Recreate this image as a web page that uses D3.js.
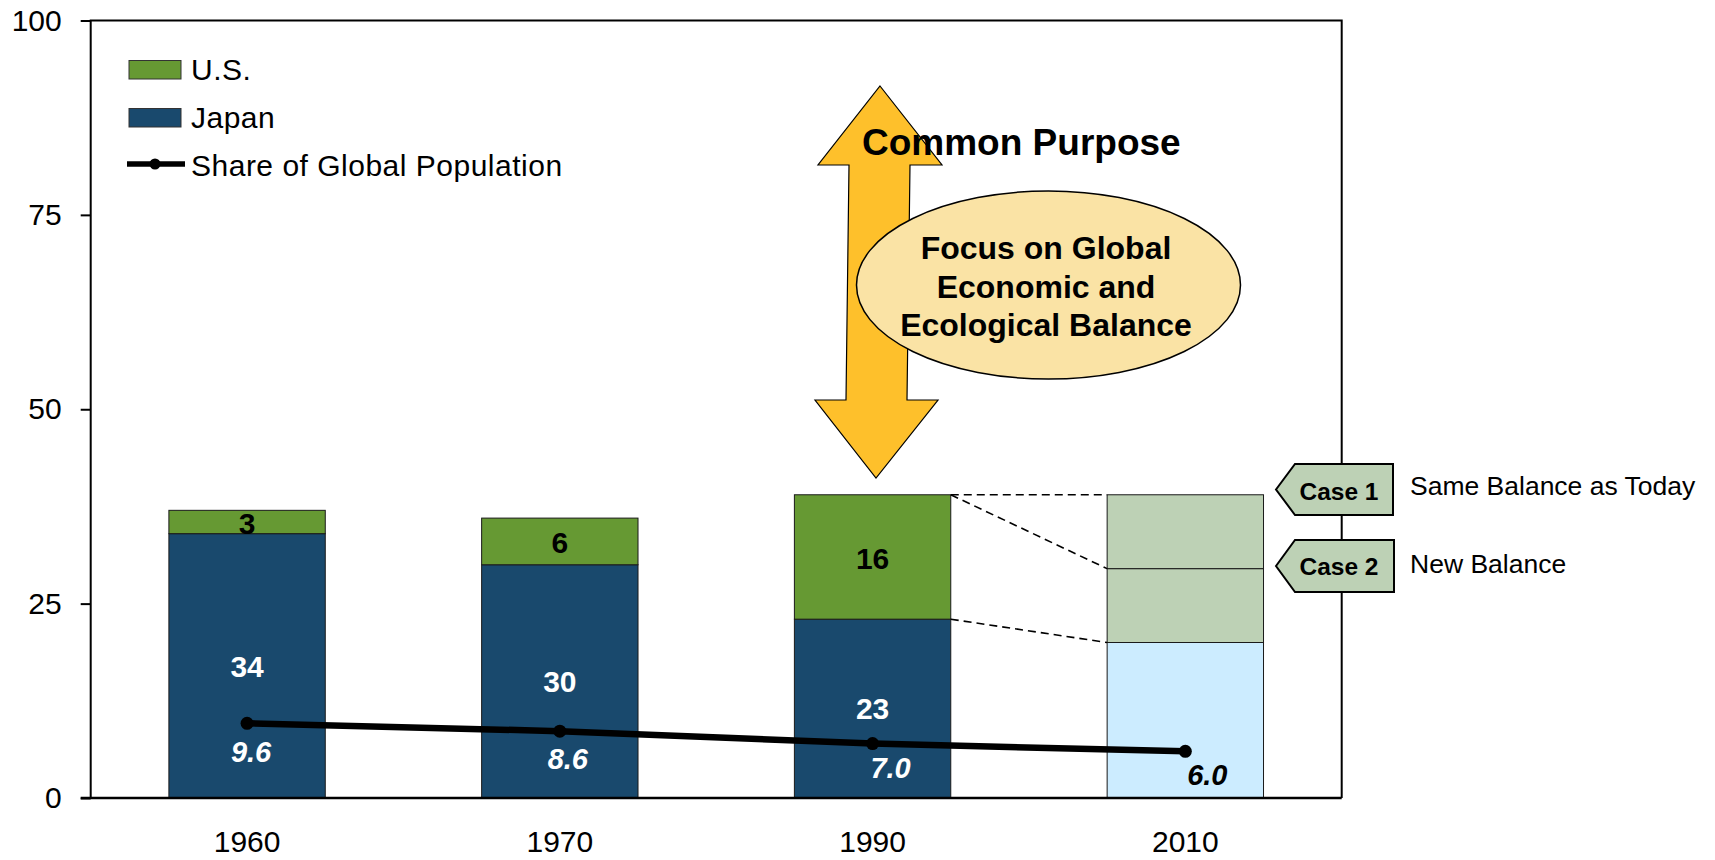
<!DOCTYPE html>
<html>
<head>
<meta charset="utf-8">
<script src="https://cdn.jsdelivr.net/npm/d3@7/dist/d3.min.js"></script>
<style>
  html, body { margin: 0; padding: 0; background: #fff; }
  svg { display: block; font-family: "Liberation Sans", Arial, sans-serif; }
</style>
</head>
<body>
<svg id="chart" width="1715" height="860"></svg>
<script>
// ---- data ----
const years = ["1960", "1970", "1990", "2010"];
const japan = [34, 30, 23, null];
const us = [3, 6, 16, null];
const projection2010 = [20, 29.5, 39];           // segment tops for 2010 (Japan, Case 2, Case 1)
const populationShare = [9.6, 8.6, 7.0, 6.0];
const yTicks = [0, 25, 50, 75, 100];
const legendLabels = ["U.S.", "Japan", "Share of Global Population"];
const cases = [
  { label: "Case 1", text: "Same Balance as Today" },
  { label: "Case 2", text: "New Balance" }
];
const ellipseLines = ["Focus on Global", "Economic and", "Ecological Balance"];
const titleText = "Common Purpose";

// ---- style ----
const C = {
  japan: "#19496D", us: "#669933", proj: "#CCECFF", projUS: "#BDD1B5",
  arrow: "#FEC02B", ellipse: "#FAE3A5", caseFill: "#BDD1B5"
};
const shareLabelOffset = [[4, 39], [8, 38], [18, 34], [22, 34]];
const shareLabelColor = ["#fff", "#fff", "#fff", "#000"];

const svg = d3.select("#chart");
const L = 90.7, R = 1341.7, T = 20.5, B = 798;

const x = d3.scaleBand().domain(years).range([L, R]).paddingInner(0.5).paddingOuter(0.25);
const y = d3.scaleLinear().domain([0, 100]).range([B, T]);
const bw = x.bandwidth();

// ---- y axis ----
const yAxis = svg.append("g").attr("transform", `translate(${L},0)`)
  .call(d3.axisLeft(y).tickValues(yTicks).tickSize(10).tickPadding(19));
yAxis.select(".domain").remove();
yAxis.selectAll(".tick line").attr("stroke", "#000").attr("stroke-width", 2);
yAxis.selectAll(".tick text").attr("font-size", 30).attr("fill", "#000")
  .attr("font-family", "Liberation Sans, Arial, sans-serif");

// ---- bars ----
const barData = years.map((yr, i) => ({ yr, japan: japan[i], us: us[i] }));
const g = svg.append("g");
barData.filter(d => d.japan != null).forEach(d => {
  g.append("rect").attr("x", x(d.yr)).attr("width", bw)
    .attr("y", y(d.japan)).attr("height", y(0) - y(d.japan))
    .attr("fill", C.japan).attr("stroke", "#1a1a1a").attr("stroke-width", 1);
  g.append("rect").attr("x", x(d.yr)).attr("width", bw)
    .attr("y", y(d.japan + d.us)).attr("height", y(d.japan) - y(d.japan + d.us))
    .attr("fill", C.us).attr("stroke", "#1a1a1a").attr("stroke-width", 1);
  g.append("text").attr("x", x(d.yr) + bw / 2).attr("y", y(d.japan / 2))
    .attr("dy", "0.36em").attr("text-anchor", "middle").attr("font-size", 30)
    .attr("font-weight", "bold").attr("fill", "#fff").text(d.japan);
  g.append("text").attr("x", x(d.yr) + bw / 2).attr("y", y(d.japan + d.us / 2))
    .attr("dy", "0.4em").attr("text-anchor", "middle").attr("font-size", 30)
    .attr("font-weight", "bold").attr("fill", "#000").text(d.us);
});
// 2010 projection
const projColors = [C.proj, C.projUS, C.projUS];
projection2010.forEach((top, i) => {
  const bottom = i === 0 ? 0 : projection2010[i - 1];
  g.append("rect").attr("x", x("2010")).attr("width", bw)
    .attr("y", y(top)).attr("height", y(bottom) - y(top))
    .attr("fill", projColors[i]).attr("stroke", "#1a1a1a").attr("stroke-width", 1);
});

// dashed connectors 1990 -> 2010
const x1 = x("1990") + bw, x2 = x("2010");
const tot1990 = japan[2] + us[2];
[[tot1990, projection2010[2]], [tot1990, projection2010[1]], [japan[2], projection2010[0]]]
  .forEach(([a, b]) => {
    svg.append("line").attr("x1", x1).attr("y1", y(a)).attr("x2", x2).attr("y2", y(b))
      .attr("stroke", "#000").attr("stroke-width", 1.6).attr("stroke-dasharray", "8,5");
  });

// ---- frame ----
svg.append("path").attr("d", `M${L},${B}V${T}H${R}V${B}`)
  .attr("fill", "none").attr("stroke", "#000").attr("stroke-width", 2);
svg.append("line").attr("x1", L - 10).attr("x2", R).attr("y1", B).attr("y2", B)
  .attr("stroke", "#000").attr("stroke-width", 2.5);

// ---- x axis labels ----
const xAxis = svg.append("g").attr("transform", `translate(0,${B})`)
  .call(d3.axisBottom(x).tickSize(0).tickPadding(33));
xAxis.select(".domain").remove();
xAxis.selectAll(".tick text").attr("font-size", 30).attr("fill", "#000")
  .attr("font-family", "Liberation Sans, Arial, sans-serif");

// ---- share of global population line ----
const pts = years.map((yr, i) => [x(yr) + bw / 2, y(populationShare[i])]);
svg.append("path").attr("d", d3.line()(pts)).attr("fill", "none")
  .attr("stroke", "#000").attr("stroke-width", 6.5);
svg.selectAll(".dot").data(pts).enter().append("circle")
  .attr("cx", d => d[0]).attr("cy", d => d[1]).attr("r", 6.5).attr("fill", "#000");
svg.selectAll(".shareLbl").data(populationShare).enter().append("text")
  .attr("x", (d, i) => pts[i][0] + shareLabelOffset[i][0])
  .attr("y", (d, i) => pts[i][1] + shareLabelOffset[i][1])
  .attr("text-anchor", "middle").attr("font-size", 29).attr("font-weight", "bold")
  .attr("font-style", "italic").attr("fill", (d, i) => shareLabelColor[i])
  .text(d => d3.format(".1f")(d));

// ---- legend ----
const lg = svg.append("g");
lg.append("rect").attr("x", 129).attr("y", 60.5).attr("width", 52).attr("height", 18.5)
  .attr("fill", C.us).attr("stroke", "#333").attr("stroke-width", 1);
lg.append("rect").attr("x", 129).attr("y", 108.5).attr("width", 52).attr("height", 18.5)
  .attr("fill", C.japan).attr("stroke", "#333").attr("stroke-width", 1);
lg.append("line").attr("x1", 127).attr("x2", 185).attr("y1", 164).attr("y2", 164)
  .attr("stroke", "#000").attr("stroke-width", 5.5);
lg.append("circle").attr("cx", 155).attr("cy", 164).attr("r", 5.5).attr("fill", "#000");
[80, 128, 176].forEach((by, i) => {
  lg.append("text").attr("x", 191).attr("y", by).attr("font-size", 30)
    .attr("letter-spacing", 0.5).attr("fill", "#000").text(legendLabels[i]);
});

// ---- double arrow ----
const arrowPts = [[880, 86], [942, 165], [910, 165], [907, 400], [938, 400], [876, 478],
  [815, 400], [846, 400], [849, 165], [818, 165]];
svg.append("polygon").attr("points", arrowPts.map(p => p.join(",")).join(" "))
  .attr("fill", C.arrow).attr("stroke", "#000").attr("stroke-width", 1.2);

// ---- ellipse ----
svg.append("ellipse").attr("cx", 1048.5).attr("cy", 285).attr("rx", 192).attr("ry", 94)
  .attr("fill", C.ellipse).attr("stroke", "#000").attr("stroke-width", 1.5);
ellipseLines.forEach((t, i) => {
  svg.append("text").attr("x", 1046).attr("y", 259.3 + i * 38.4)
    .attr("text-anchor", "middle").attr("font-size", 32).attr("font-weight", "bold")
    .attr("fill", "#000").text(t);
});

// ---- title ----
svg.append("text").attr("x", 862).attr("y", 155).attr("font-size", 37)
  .attr("font-weight", "bold").attr("fill", "#000").text(titleText);

// ---- case callouts ----
const caseBoxes = [{ cy: 489.5, top: 464, bot: 515, right: 1393, textY: 495, lblY: 500 },
                   { cy: 566, top: 540, bot: 592, right: 1394, textY: 573, lblY: 575 }];
cases.forEach((c, i) => {
  const b = caseBoxes[i];
  const p = [[1276, b.cy], [1295, b.top], [b.right, b.top], [b.right, b.bot], [1295, b.bot]];
  svg.append("polygon").attr("points", p.map(q => q.join(",")).join(" "))
    .attr("fill", C.caseFill).attr("stroke", "#000").attr("stroke-width", 2);
  svg.append("text").attr("x", 1339).attr("y", b.lblY).attr("text-anchor", "middle")
    .attr("font-size", 24.5).attr("font-weight", "bold").attr("fill", "#000").text(c.label);
  svg.append("text").attr("x", 1410).attr("y", b.textY).attr("font-size", 26.5)
    .attr("fill", "#000").text(c.text);
});
</script>
</body>
</html>
